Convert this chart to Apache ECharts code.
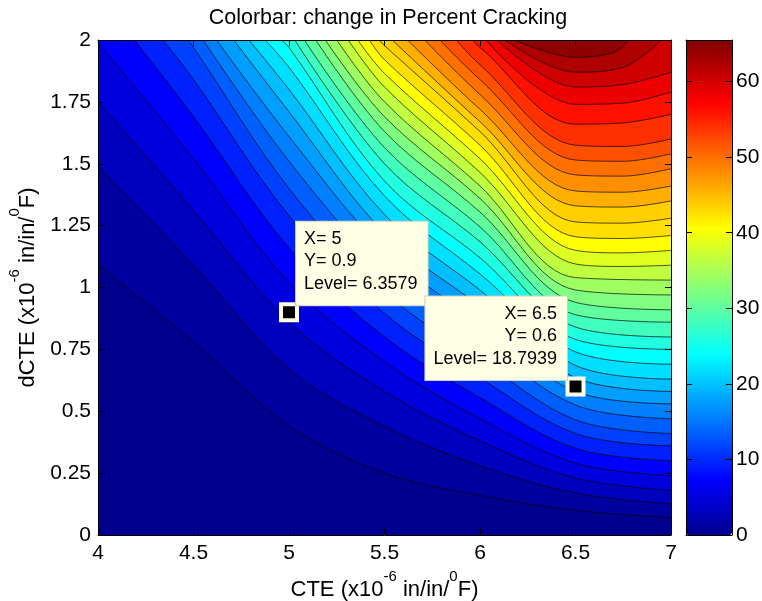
<!DOCTYPE html>
<html>
<head>
<meta charset="utf-8">
<script src="https://cdn.jsdelivr.net/npm/echarts@6/dist/echarts.min.js"></script>
<style>
html,body{margin:0;padding:0;background:#fff}
#c{width:762px;height:601px}
</style>
</head>
<body>
<div id="c"></div>
<script>
// ---- data ----
const title = 'Colorbar: change in Percent Cracking';
const xTicks = [4, 4.5, 5, 5.5, 6, 6.5, 7];
const yTicks = [0, 0.25, 0.5, 0.75, 1, 1.25, 1.5, 1.75, 2];
const colorbarTicks = [0, 10, 20, 30, 40, 50, 60];
const colorMin = 0;
const colorMax = 65.5;
// contour levels (Percent Cracking)
const levels = [2,4,6,8,10,12,14,16,18,20,22,24,26,28,30,32,34,36,38,40,42,44,46,48,50,52,54,56,58,60,62,64];
// each contour line as [CTE, dCTE] points, one list per level
const contour02 = [[4,1.09],[4.5,0.78],[5,0.44],[5.5,0.25],[6,0.16],[6.5,0.10],[7,0.07]];
const contour04 = [[4,1.49],[4.5,1.09],[5,0.67],[5.5,0.44],[6,0.28],[6.5,0.17],[7,0.125]];
const contour06 = [[4,1.75],[4.5,1.31],[5,0.86],[5.5,0.58],[6,0.38],[6.5,0.23],[7,0.18]];
const contour08 = [[4,1.99],[4.5,1.52],[5,1.02],[5.5,0.70],[6,0.47],[6.5,0.29],[7,0.24]];
const contour10 = [[4.19,2],[4.5,1.69],[5,1.16],[5.5,0.80],[6,0.555],[6.5,0.35],[7,0.30]];
const contour12 = [[4.34,2],[4.5,1.84],[5,1.29],[5.5,0.895],[6,0.635],[6.5,0.41],[7,0.36]];
const contour14 = [[4.47,2],[4.5,1.97],[5,1.40],[5.5,0.98],[6,0.71],[6.5,0.465],[7,0.41]];
const contour16 = [[4.55,2],[5,1.51],[5.5,1.07],[6,0.785],[6.5,0.525],[7,0.47]];
const contour18 = [[4.62,2],[5,1.61],[5.5,1.15],[6,0.855],[6.5,0.58],[7,0.53]];
const contour20 = [[4.71,2],[5,1.71],[5.5,1.22],[6,0.925],[6.5,0.635],[7,0.58]];
const contour22 = [[4.79,2],[5,1.80],[5.5,1.295],[6,0.99],[6.5,0.685],[7,0.63]];
const contour24 = [[4.875,2],[5,1.89],[5.5,1.37],[6,1.055],[6.5,0.74],[7,0.69]];
const contour26 = [[4.96,2],[5,1.97],[5.5,1.43],[6,1.12],[6.5,0.79],[7,0.75]];
const contour28 = [[5.03,2],[5.5,1.50],[6,1.185],[6.5,0.84],[7,0.80]];
const contour30 = [[5.08,2],[5.5,1.565],[6,1.245],[6.5,0.89],[7,0.86]];
const contour32 = [[5.14,2],[5.5,1.63],[6,1.305],[6.5,0.94],[7,0.91]];
const contour34 = [[5.19,2],[5.5,1.69],[6,1.36],[6.5,0.99],[7,0.97]];
const contour36 = [[5.25,2],[5.5,1.75],[6,1.41],[6.5,1.04],[7,1.03]];
const contour38 = [[5.31,2],[5.5,1.81],[6,1.465],[6.5,1.095],[6.75,1.085],[7,1.09]];
const contour40 = [[5.36,2],[5.5,1.865],[6,1.52],[6.5,1.15],[6.75,1.14],[7,1.15]];
const contour42 = [[5.42,2],[5.5,1.92],[6,1.575],[6.5,1.205],[6.75,1.198],[7,1.21]];
const contour44 = [[5.47,2],[5.5,1.977],[6,1.63],[6.5,1.265],[6.75,1.26],[7,1.28]];
const contour46 = [[5.54,2],[6,1.67],[6.5,1.33],[6.75,1.325],[7,1.35]];
const contour48 = [[5.62,2],[6,1.72],[6.5,1.39],[6.75,1.385],[7,1.41]];
const contour50 = [[5.71,2],[6,1.78],[6.5,1.455],[6.75,1.45],[7,1.48]];
const contour52 = [[5.79,2],[6,1.84],[6.5,1.515],[6.75,1.51],[7,1.54]];
const contour54 = [[5.875,2],[6,1.90],[6.5,1.575],[6.75,1.57],[7,1.60]];
const contour56 = [[5.96,2],[6,1.97],[6.5,1.66],[6.75,1.665],[7,1.70]];
const contour58 = [[6.03,2],[6.5,1.74],[6.75,1.745],[7,1.79]];
const contour60 = [[6.09,2],[6.5,1.81],[6.75,1.82],[7,1.87]];
const contour62 = [[6.13,2],[6.5,1.87],[6.75,1.89],[6.95,2]];
const contour64 = [[6.18,2],[6.5,1.93],[6.7,1.95],[6.78,2]];
const contourLines = [contour02,contour04,contour06,contour08,contour10,contour12,contour14,contour16,
  contour18,contour20,contour22,contour24,contour26,contour28,contour30,contour32,contour34,contour36,
  contour38,contour40,contour42,contour44,contour46,contour48,contour50,contour52,contour54,contour56,
  contour58,contour60,contour62,contour64];
// data tips
const tipX = [5, 6.5];
const tipY = [0.9, 0.6];
const tipLevel = ['6.3579', '18.7939'];

// ---- styling helpers ----
const FONT = "'Liberation Sans', Arial, Helvetica, sans-serif";
function buildJet() {
  const n = 16, u = [];
  for (let j = 1; j <= n; j++) u.push(j / n);
  for (let j = 0; j < n - 1; j++) u.push(1);
  for (let j = n; j >= 1; j--) u.push(j / n);
  const get = (j) => (j >= 1 && j <= u.length) ? u[j - 1] : 0;
  const out = [];
  for (let i = 1; i <= 64; i++) {
    const r = get(i - 24), g = get(i - 8), b = get(i + 8);
    out.push('rgb(' + Math.round(r * 255) + ',' + Math.round(g * 255) + ',' + Math.round(b * 255) + ')');
  }
  return out;
}
const jet = buildJet();
function bandColor(v) {
  let idx = Math.floor((v - colorMin) / (colorMax - colorMin) * 64);
  idx = Math.max(0, Math.min(63, idx));
  return jet[idx];
}

const SMOOTH = 0.35;
const series = [];
contourLines.forEach((pts, i) => {
  series.push({
    type: 'line', data: pts, smooth: SMOOTH, symbol: 'none', silent: true,
    xAxisIndex: 0, yAxisIndex: 0, z: 2,
    lineStyle: { opacity: 0, width: 0 },
    areaStyle: { origin: 'end', color: bandColor(levels[i]), opacity: 1 }
  });
});
contourLines.forEach((pts) => {
  series.push({
    type: 'line', data: pts, smooth: SMOOTH, symbol: 'none', silent: true,
    xAxisIndex: 0, yAxisIndex: 0, z: 3,
    lineStyle: { color: '#000', width: 0.8, opacity: 0.85 }
  });
});
const tipLabelBase = {
  show: true, color: '#000', fontFamily: FONT, fontSize: 18, lineHeight: 22.5,
  backgroundColor: '#ffffe6', borderColor: '#cfcfbc', borderWidth: 1, verticalAlign: 'bottom'
};
series.push({
  type: 'scatter', xAxisIndex: 0, yAxisIndex: 0, z: 20, silent: true,
  symbol: 'rect', symbolSize: 16,
  itemStyle: { color: '#000', borderColor: '#ffffe6', borderWidth: 4, opacity: 1 },
  data: tipX.map((x, i) => ({
    value: [x, tipY[i]],
    label: Object.assign({}, tipLabelBase, i === 0
      ? { position: [17, 3], align: 'left', padding: [6, 10, 10, 8] }
      : { position: [1.5, 3.5], align: 'right', padding: [6, 10, 10, 8] })
  })),
  label: {
    show: true,
    formatter: (p) => 'X= ' + tipX[p.dataIndex] + '\nY= ' + tipY[p.dataIndex] + '\nLevel= ' + tipLevel[p.dataIndex]
  }
});
series.push({ type: 'scatter', xAxisIndex: 2, yAxisIndex: 2, data: [] });

const axisLineStyle = { show: true, onZero: false, lineStyle: { color: '#000', width: 1 } };
const tickIn = { show: true, inside: true, length: 6, lineStyle: { color: '#000', width: 1 } };
const nameRich = {
  n: { fontFamily: FONT, fontSize: 22, color: '#000', lineHeight: 32, verticalAlign: 'bottom' },
  s: { fontFamily: FONT, fontSize: 15, color: '#000', lineHeight: 15, verticalAlign: 'top' }
};

const option = {
  backgroundColor: '#fff',
  animation: false,
  title: {
    text: title, left: 383, top: 2, textAlign: 'center',
    textStyle: { fontFamily: FONT, fontSize: 21.5, fontWeight: 'normal', color: '#000' }
  },
  grid: [
    { left: 98, top: 40, width: 573, height: 495, show: true, backgroundColor: bandColor(0), borderWidth: 0, outerBoundsMode: 'none' },
    { left: 686, top: 40, width: 46, height: 495, show: false, outerBoundsMode: 'none' }
  ],
  xAxis: [
    { gridIndex: 0, type: 'value', min: xTicks[0], max: xTicks[xTicks.length - 1], interval: 0.5, position: 'bottom', z: 10,
      axisLine: axisLineStyle, axisTick: tickIn, splitLine: { show: false },
      axisLabel: { fontFamily: FONT, fontSize: 21, color: '#000', margin: 8 },
      name: '{n|CTE (x10}{s|-6}{n| in/in/}{s|0}{n|F)}', nameLocation: 'middle', nameGap: 32,
      nameTextStyle: { rich: nameRich } },
    { gridIndex: 0, type: 'value', min: xTicks[0], max: xTicks[xTicks.length - 1], interval: 0.5, position: 'top', z: 10,
      axisLine: axisLineStyle, axisTick: tickIn, splitLine: { show: false }, axisLabel: { show: false } },
    { gridIndex: 1, type: 'value', min: 0, max: 1, position: 'bottom', z: 10,
      axisLine: axisLineStyle, axisTick: { show: false }, splitLine: { show: false }, axisLabel: { show: false } },
    { gridIndex: 1, type: 'value', min: 0, max: 1, position: 'top', z: 10,
      axisLine: axisLineStyle, axisTick: { show: false }, splitLine: { show: false }, axisLabel: { show: false } }
  ],
  yAxis: [
    { gridIndex: 0, type: 'value', min: yTicks[0], max: yTicks[yTicks.length - 1], interval: 0.25, position: 'left', z: 10,
      axisLine: axisLineStyle, axisTick: tickIn, splitLine: { show: false },
      axisLabel: { fontFamily: FONT, fontSize: 21, color: '#000', margin: 7 },
      name: '{n|dCTE (x10}{s|-6}{n| in/in/}{s|0}{n|F)}', nameLocation: 'middle', nameGap: 58,
      nameTextStyle: { rich: nameRich } },
    { gridIndex: 0, type: 'value', min: yTicks[0], max: yTicks[yTicks.length - 1], interval: 0.25, position: 'right', z: 10,
      axisLine: axisLineStyle, axisTick: tickIn, splitLine: { show: false }, axisLabel: { show: false } },
    { gridIndex: 1, type: 'value', min: colorMin, max: colorMax, interval: 10, position: 'right', z: 10,
      axisLine: axisLineStyle, axisTick: tickIn, splitLine: { show: false },
      axisLabel: { fontFamily: FONT, fontSize: 21, color: '#000', margin: 4, showMaxLabel: false,
        formatter: (v) => colorbarTicks.indexOf(v) >= 0 ? String(v) : '' } },
    { gridIndex: 1, type: 'value', min: colorMin, max: colorMax, interval: 10, position: 'left', z: 10,
      axisLine: axisLineStyle, axisTick: tickIn, splitLine: { show: false }, axisLabel: { show: false } }
  ],
  visualMap: {
    type: 'continuous', min: colorMin, max: colorMax, calculable: false, show: true,
    seriesIndex: series.length - 1, left: 686, top: 40, itemWidth: 46, itemHeight: 495,
    padding: 0, text: null, inRange: { color: jet }, z: 4
  },
  series: series
};
const chart = echarts.init(document.getElementById('c'), null, { renderer: 'canvas' });
chart.setOption(option);
</script>
</body>
</html>
